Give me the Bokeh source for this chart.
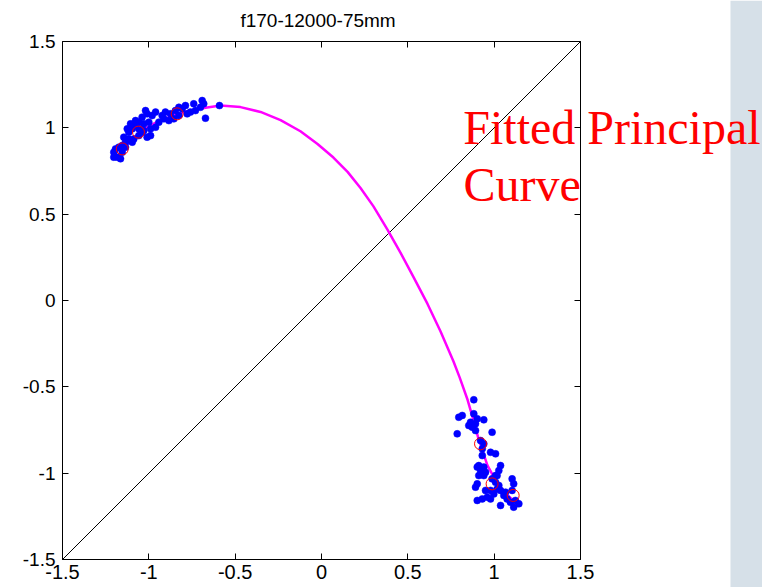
from bokeh.plotting import figure
from bokeh.models import Range1d, Label, LinearAxis, FixedTicker, BoxAnnotation
from bokeh.embed import file_html
from bokeh.resources import INLINE

# ---------------- data ----------------
title_text = "f170-12000-75mm"
tick_values = [-1.5, -1.0, -0.5, 0.0, 0.5, 1.0, 1.5]
tick_labels = ["-1.5", "-1", "-0.5", "0", "0.5", "1", "1.5"]
axis_lo, axis_hi = -1.5, 1.5

diag_x = [-1.5, 1.5]
diag_y = [-1.5, 1.5]

curve_x = [-1.16, -1.10, -1.04, -0.97, -0.90, -0.836, -0.76, -0.70, -0.585, -0.469,
           -0.353, -0.237, -0.122, -0.023, 0.069, 0.151, 0.226, 0.301, 0.382, 0.458,
           0.533, 0.614, 0.689, 0.764, 0.80, 0.846, 0.874, 0.909, 0.961, 1.019, 1.077, 1.124]
curve_y = [0.87, 0.93, 0.985, 1.025, 1.055, 1.081, 1.10, 1.112, 1.129, 1.120,
           1.092, 1.045, 0.980, 0.906, 0.828, 0.745, 0.652, 0.545, 0.410, 0.276,
           0.135, -0.020, -0.178, -0.352, -0.445, -0.575, -0.672, -0.800, -0.955, -1.060, -1.128, -1.170]

upper_x = [-0.691, -0.682, -0.701, -0.672, -0.730, -0.759, -0.778, -0.788, -0.807, -0.826,
           -0.855, -0.875, -0.904, -0.913, -0.884, -0.846, -0.961, -0.981, -1.010, -1.019,
           -1.039, -1.058, -1.077, -1.096, -1.116, -1.106, -1.077, -1.000, -0.990, -1.010,
           -1.029, -1.058, -1.087, -1.116, -1.135, -1.154, -1.174, -1.193, -1.203, -1.183,
           -1.164, -1.203, -1.145, -1.125, -0.942, -0.923, -1.058, -1.039, -0.990, -0.961,
           -1.029, -1.135, -1.096, -1.154, -0.740, -0.826, -0.591]
upper_y = [1.158, 1.139, 1.119, 1.056, 1.100, 1.091, 1.081, 1.129, 1.110, 1.071,
           1.052, 1.081, 1.091, 1.052, 1.042, 1.100, 1.091, 1.071, 1.081, 1.100,
           1.062, 1.033, 1.013, 0.994, 0.975, 1.023, 1.042, 1.033, 0.955, 0.946,
           0.984, 0.955, 0.936, 0.936, 0.917, 0.898, 0.888, 0.878, 0.859, 0.830,
           0.821, 0.830, 0.946, 0.994, 1.033, 1.071, 0.994, 0.975, 0.994, 1.004,
           1.023, 0.888, 0.917, 0.859, 1.139, 1.119, 1.129]

lower_x = [0.882, 0.815, 0.795, 0.882, 0.863, 0.853, 0.892, 0.873, 0.902, 0.940,
           0.786, 0.892, 0.988, 0.921, 0.940, 0.931, 0.979, 1.008, 0.931, 0.911,
           0.940, 0.921, 0.950, 0.911, 1.037, 1.027, 1.008, 0.988, 0.902, 0.892,
           1.008, 1.027, 1.037, 1.017, 1.104, 1.113, 1.104, 0.950, 0.960, 0.931,
           0.902, 0.979, 1.056, 1.075, 1.094, 1.123, 1.143, 1.113, 1.037, 1.017,
           0.979, 0.998, 0.902, 0.940, 1.066]
lower_y = [-0.575, -0.666, -0.676, -0.656, -0.705, -0.724, -0.714, -0.734, -0.685, -0.691,
           -0.772, -0.753, -0.763, -0.811, -0.830, -0.859, -0.879, -0.888, -0.898, -0.956,
           -0.965, -0.985, -0.994, -1.014, -0.956, -0.985, -1.014, -1.033, -1.062, -1.081,
           -1.052, -1.071, -1.100, -1.091, -1.033, -1.062, -1.100, -1.100, -1.139, -1.149,
           -1.158, -1.149, -1.129, -1.149, -1.168, -1.158, -1.177, -1.197, -1.187, -1.014,
           -1.100, -1.120, -0.965, -1.014, -1.110]

node_x = [-1.154, -1.060, -0.836, 0.921, 0.988, 1.110]
node_y = [0.878, 0.975, 1.081, -0.830, -1.062, -1.129]

annot_line1 = "Fitted Principal"
annot_line2 = "Curve"

# ---------------- layout geometry (pixels) ----------------
W, H = 762, 587
box_left, box_right, box_top, box_bottom = 62, 580, 41, 559
ppu = (box_right - box_left) / (axis_hi - axis_lo)          # pixels per unit
x0 = axis_lo - box_left / ppu
x1 = x0 + W / ppu
y0 = axis_lo - (H - box_bottom) / ppu
y1 = y0 + H / ppu
panel_left = x0 + 730 / ppu

p = figure(width=W, height=H, output_backend="svg", toolbar_location=None,
           x_range=Range1d(x0, x1), y_range=Range1d(y0, y1),
           x_axis_location=None, y_axis_location=None,
           min_border=0, min_border_left=0, min_border_right=0,
           min_border_top=0, min_border_bottom=0)
p.background_fill_color = "white"
p.border_fill_color = "white"
p.outline_line_color = None
p.grid.visible = False

# light side panel of the slide
p.add_layout(BoxAnnotation(left=panel_left, fill_color="#d6e0e8", fill_alpha=1.0,
                           line_color=None, level="underlay"))

overrides = {v: s for v, s in zip(tick_values, tick_labels)}
blank = {v: "" for v in tick_values}

def make_axis(loc, labels, size, standoff):
    ax = LinearAxis(fixed_location=loc, bounds=(axis_lo, axis_hi))
    ax.ticker = FixedTicker(ticks=tick_values)
    ax.major_label_overrides = overrides if labels else blank
    ax.axis_line_color = "black"
    ax.axis_line_width = 1
    ax.major_tick_line_color = "black"
    ax.major_tick_in = 6
    ax.major_tick_out = 0
    ax.minor_tick_line_color = None
    ax.major_label_text_font = "Liberation Sans"
    ax.major_label_text_color = "black"
    ax.major_label_text_font_size = size
    ax.major_label_standoff = standoff
    return ax

p.add_layout(make_axis(axis_lo, True, "20px", 5), "below")
p.add_layout(make_axis(axis_lo, True, "19px", 7), "left")
p.add_layout(make_axis(axis_hi, False, "19px", 0), "above")
p.add_layout(make_axis(axis_hi, False, "19px", 0), "right")

# diagonal reference line
p.line(diag_x, diag_y, line_color="black", line_width=1)
# principal curve
p.line(curve_x, curve_y, line_color="#ff00ff", line_width=2.5)
# data points
p.scatter(upper_x, upper_y, size=7, fill_color="#0000ff", line_color="#0000ff", line_width=0.5)
p.scatter(lower_x, lower_y, size=7, fill_color="#0000ff", line_color="#0000ff", line_width=0.5)
# curve nodes
p.scatter(node_x, node_y, size=12, fill_color=None, line_color="#ff0000", line_width=1)

# title
p.add_layout(Label(x=-0.02, y=1.621, text=title_text, text_align="center",
                   text_baseline="alphabetic", text_font="Liberation Sans",
                   text_font_size="19px", text_color="black"))
# annotation text
p.add_layout(Label(x=0.821, y=1.000, text=annot_line1, text_align="left",
                   text_baseline="alphabetic", text_font="Liberation Serif",
                   text_font_size="48px", text_color="#ff0000"))
p.add_layout(Label(x=0.822, y=0.671, text=annot_line2, text_align="left",
                   text_baseline="alphabetic", text_font="Liberation Serif",
                   text_font_size="48px", text_color="#ff0000"))

open("out.html", "w").write(file_html(p, INLINE))
